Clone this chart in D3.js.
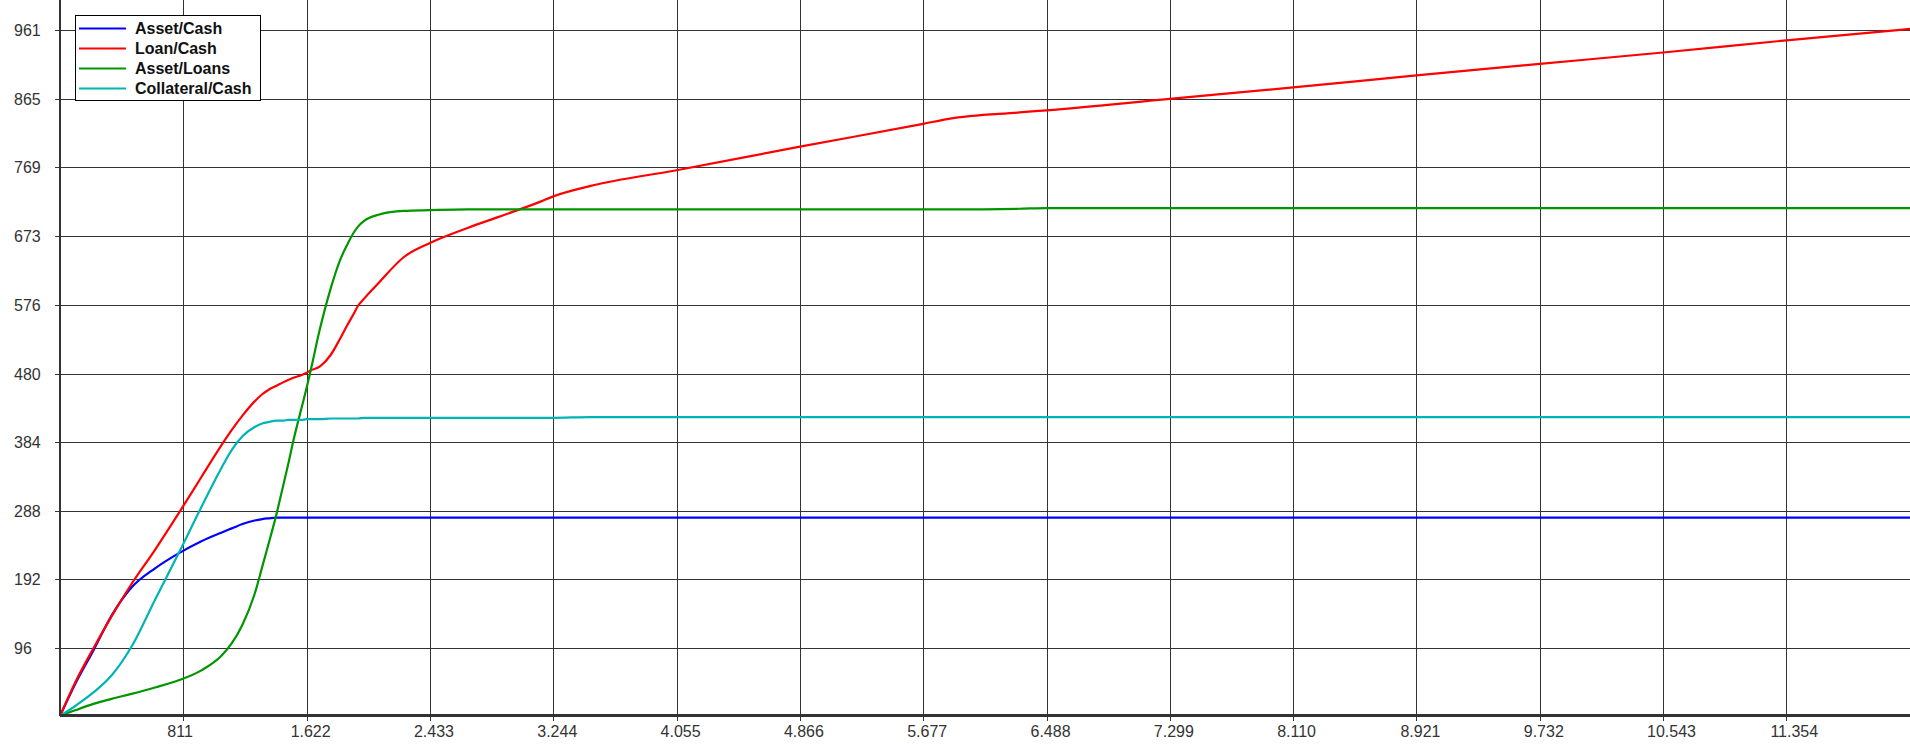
<!DOCTYPE html>
<html>
<head>
<meta charset="utf-8">
<script src="https://cdn.jsdelivr.net/npm/d3@7"></script>
<style>
  html, body { margin: 0; padding: 0; background: #fff; }
  svg { display: block; font-family: "Liberation Sans", Arial, sans-serif; }
</style>
</head>
<body>
<svg id="chart" width="1910" height="746"></svg>
<script>
// data
const xValues = [0, 100, 220, 340, 470, 625, 780, 930, 1060, 1130, 1200, 1280, 1330, 1370, 1425, 1470, 1500, 1535, 1590, 1622,
  1645, 1710, 1780, 1840, 1890, 1930, 1960, 2000, 2100, 2260, 2433, 2680, 2890, 3160, 3240, 3490, 4055, 4867, 5677, 5845,
  6310, 6488, 7299, 8110, 8921, 9732, 10543, 11354, 12167];

const assetCash = [0, 45, 92, 141, 180, 207, 228, 245, 257, 263, 269, 274, 276, 277, 278, 278, 278, 278, 278, 278,
  278, 278, 278, 278, 278, 278, 278, 278, 278, 278, 278, 278, 278, 278, 278, 278, 278, 278, 278, 278,
  278, 278, 278, 278, 278, 278, 278, 278, 278];

const loanCash = [0, 47, 95, 140, 185, 233, 284, 335, 379, 401, 421, 441, 451, 457, 463, 468, 471, 474, 478, 481,
  484, 490, 506, 528, 548, 563, 575, 585, 608, 643, 663, 684, 700, 721, 728, 743, 765, 798, 830, 837,
  846, 849, 865, 881, 898, 914, 930, 947, 963];

const assetLoans = [0, 8, 17, 24, 31, 40, 50, 64, 84, 102, 128, 171, 209, 240, 284, 325, 352, 386, 433, 460,
  481, 543, 599, 638, 661, 677, 686, 694, 703, 708, 709, 710, 710, 710, 710, 710, 710, 710, 710, 710,
  711, 712, 712, 712, 712, 712, 712, 712, 712];

const collateralCash = [0, 14, 33, 57, 97, 163, 228, 293, 347, 373, 392, 405, 410, 412, 414, 414, 415, 415, 415, 416,
  416, 416, 417, 417, 417, 417, 417, 418, 418, 418, 418, 418, 418, 418, 418, 419, 419, 419, 419, 419,
  419, 419, 419, 419, 419, 419, 419, 419, 419];

const seriesNames = ["Asset/Cash", "Loan/Cash", "Asset/Loans", "Collateral/Cash"];
const seriesValues = [assetCash, loanCash, assetLoans, collateralCash];
const seriesColors = ["#0000ff", "#ff0000", "#009600", "#00b4b4"];

const xTicks = [811, 1622, 2433, 3244, 4055, 4866, 5677, 6488, 7299, 8110, 8921, 9732, 10543, 11354];
const xTickLabels = ["811", "1.622", "2.433", "3.244", "4.055", "4.866", "5.677", "6.488", "7.299", "8.110", "8.921", "9.732", "10.543", "11.354"];
const yTicks = [96, 192, 288, 384, 480, 576, 673, 769, 865, 961];
const yTickLabels = ["96", "192", "288", "384", "480", "576", "673", "769", "865", "961"];

const W = 1910, H = 746;
const left = 60, bottom = 716;

const svg = d3.select("#chart");

const x = d3.scaleLinear().domain([0, 12167]).range([left, W]);
const y = d3.scaleLinear().domain([0, 1003.6]).range([bottom, 0]);

// grid
const grid = svg.append("g").attr("stroke", "#333").attr("stroke-width", 1).attr("shape-rendering", "crispEdges");
grid.selectAll("line.h").data(yTicks).join("line")
  .attr("class", "h")
  .attr("x1", left - 5).attr("x2", W)
  .attr("y1", d => Math.round(y(d)) + 0.5).attr("y2", d => Math.round(y(d)) + 0.5);
grid.selectAll("line.v").data(xTicks).join("line")
  .attr("class", "v")
  .attr("y1", 0).attr("y2", bottom + 5)
  .attr("x1", d => Math.round(x(d)) + 0.5).attr("x2", d => Math.round(x(d)) + 0.5);

// tick labels
svg.append("g").selectAll("text").data(yTicks).join("text")
  .attr("x", 14)
  .attr("y", d => Math.round(y(d)) + 5.5)
  .attr("font-size", 16).attr("fill", "#333")
  .text((d, i) => yTickLabels[i]);
svg.append("g").selectAll("text").data(xTicks).join("text")
  .attr("x", d => x(d) - 16)
  .attr("y", 737)
  .attr("font-size", 16).attr("fill", "#333")
  .text((d, i) => xTickLabels[i]);

// series
const line = d3.line()
  .x((d, i) => x(xValues[i]))
  .y(d => y(d))
  .curve(d3.curveMonotoneX);

svg.append("g").selectAll("path").data(seriesValues).join("path")
  .attr("fill", "none")
  .attr("stroke", (d, i) => seriesColors[i])
  .attr("stroke-width", 2.2)
  .attr("d", d => line(d));

// axes
const axes = svg.append("g").attr("stroke", "#333").attr("stroke-width", 2.4).attr("shape-rendering", "crispEdges");
axes.append("line").attr("x1", left).attr("x2", left).attr("y1", 0).attr("y2", bottom);
axes.append("line").attr("x1", left).attr("x2", W).attr("y1", bottom - 0.5).attr("y2", bottom - 0.5);

// legend
const legend = svg.append("g").attr("transform", "translate(75.5,15.5)");
legend.append("rect").attr("width", 185).attr("height", 85)
  .attr("fill", "#fff").attr("stroke", "#000").attr("stroke-width", 1);
const item = legend.selectAll("g.item").data(seriesNames).join("g")
  .attr("class", "item")
  .attr("transform", (d, i) => `translate(0,${13 + i * 20})`);
item.append("line")
  .attr("x1", 3.5).attr("x2", 50.5)
  .attr("stroke", (d, i) => seriesColors[i]).attr("stroke-width", 2);
item.append("text")
  .attr("x", 59.5).attr("y", 5)
  .attr("font-size", 16).attr("font-weight", "bold").attr("fill", "#111")
  .text(d => d);
</script>
</body>
</html>
